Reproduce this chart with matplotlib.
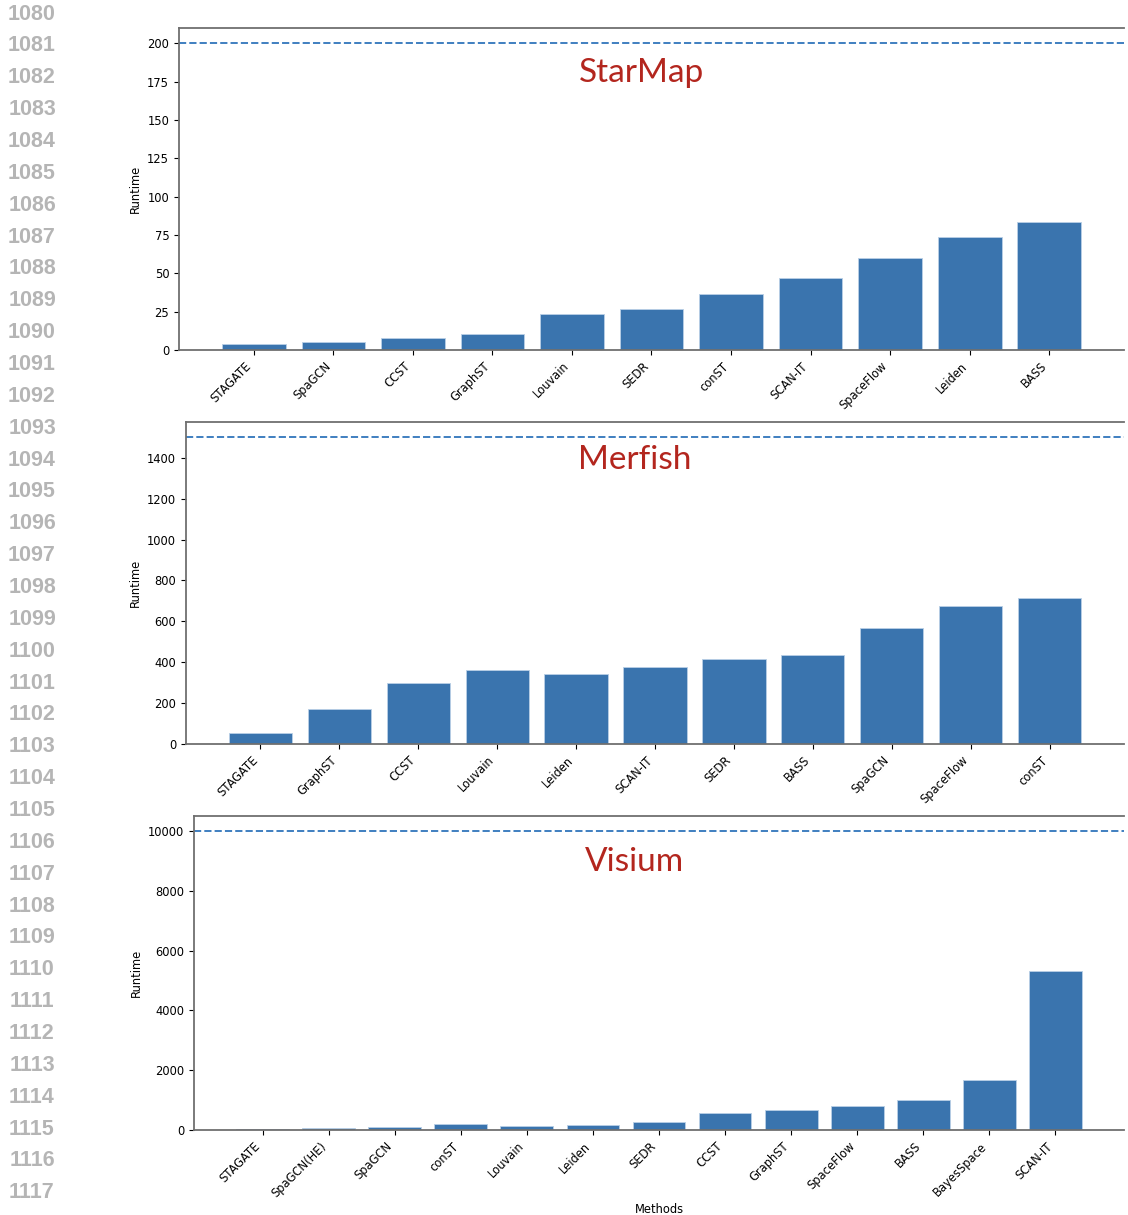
import matplotlib
matplotlib.use("Agg")
import matplotlib.pyplot as plt

# ---- data ----
starmap_methods = ["STAGATE", "SpaGCN", "CCST", "GraphST", "Louvain", "SEDR",
                   "conST", "SCAN-IT", "SpaceFlow", "Leiden", "BASS"]
starmap_runtime = [3.7, 5.2, 7.8, 10.2, 23.3, 26.7, 36.5, 47, 60.2, 73.5, 83.3]

merfish_methods = ["STAGATE", "GraphST", "CCST", "Louvain", "Leiden", "SCAN-IT",
                   "SEDR", "BASS", "SpaGCN", "SpaceFlow", "conST"]
merfish_runtime = [52, 173, 296, 362, 340, 378, 415, 435, 566, 677, 715]

visium_methods = ["STAGATE", "SpaGCN(HE)", "SpaGCN", "conST", "Louvain", "Leiden",
                  "SEDR", "CCST", "GraphST", "SpaceFlow", "BASS", "BayesSpace", "SCAN-IT"]
visium_runtime = [30, 55, 90, 210, 120, 180, 255, 557, 668, 803, 1003, 1662, 5328]

limits = [200, 1500, 10000]
titles = ["StarMap", "Merfish", "Visium"]
line_numbers = list(range(1080, 1118))

W, H = 1128, 1215
BAR_COLOR = "#3a74ae"
LINE_COLOR = "#3f7fc0"
TITLE_COLOR = "#b3261e"
SPINE_COLOR = "#6f6f6f"

fig = plt.figure(figsize=(W / 100, H / 100), dpi=100)


def px_axes(left, top, right, bottom):
    return fig.add_axes([left / W, 1 - bottom / H, (right - left) / W, (bottom - top) / H])


# pixel boxes of the three panels (left, top, right, bottom)
boxes = [(179, 28, 1124, 350), (186, 422, 1124, 744), (194, 816, 1124, 1130)]
panels = [(starmap_methods, starmap_runtime),
          (merfish_methods, merfish_runtime),
          (visium_methods, visium_runtime)]
title_pos = [(642, 73), (635, 460), (634, 862)]

for i, ((methods, runtime), box) in enumerate(zip(panels, boxes)):
    ax = px_axes(*box)
    x = list(range(len(methods)))
    ax.bar(x, runtime, width=0.8, color=BAR_COLOR, edgecolor="#b9cfe6", linewidth=0.6)
    ax.axhline(limits[i], color=LINE_COLOR, linestyle="--", linewidth=1.4)
    ax.set_ylim(0, limits[i] * 1.05)
    ax.margins(x=0.05)
    ax.set_xticks(x)
    ax.set_xticklabels(methods, rotation=45, ha="right", fontsize=8.3)
    ax.tick_params(axis="y", labelsize=8.3)
    ax.set_ylabel("Runtime", fontsize=8.3)
    ax.spines["right"].set_visible(False)
    for s in ["left", "top", "bottom"]:
        ax.spines[s].set_color(SPINE_COLOR)
        ax.spines[s].set_linewidth(1.3)
    if i == 2:
        ax.set_xlabel("Methods", fontsize=8.3, labelpad=2)
    tx, ty = title_pos[i]
    fig.text(tx / W, 1 - ty / H, titles[i], color=TITLE_COLOR, fontsize=24,
             family="Lato", ha="center", va="center")

# line numbers of the manuscript page
for k, n in enumerate(line_numbers):
    fig.text(32 / W, 1 - (14 + k * 31.86) / H, str(n), color="#b5b5b5",
             fontsize=15.5, fontweight="bold", family="Liberation Sans",
             ha="center", va="center")

fig.savefig("out.png", dpi=100)
